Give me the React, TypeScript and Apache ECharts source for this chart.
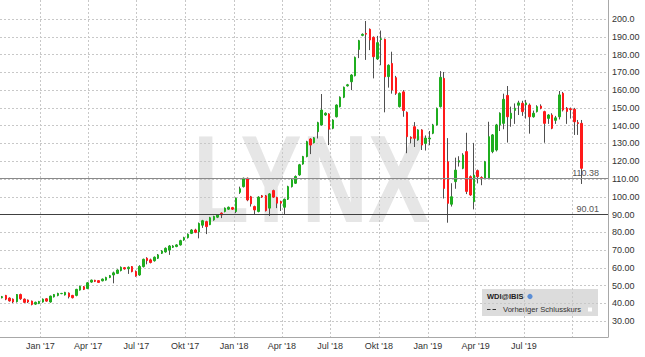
import React, { useEffect, useRef } from 'react';
import * as echarts from 'echarts';

// First weekly candle (Friday) and week length
const firstWeekDate = [2016, 9, 21];
const DAY = 86400000;

// Weekly candles: [open, close, low, high]
const weeklyOHLC: number[][] = [
  [43.2, 43.8, 42.8, 44.2], [44.5, 42.4, 41.8, 44.8], [43.0, 41.4, 41.0, 43.4], [42.4, 40.8, 40.2, 42.8],
  [41.0, 45.0, 40.5, 45.3], [45.0, 42.6, 42.0, 45.5], [42.4, 40.6, 40.2, 42.8], [41.9, 40.8, 40.2, 42.2],
  [41.3, 39.4, 38.9, 41.6], [39.6, 40.6, 39.2, 41.0], [40.0, 41.1, 39.6, 41.4], [40.8, 42.4, 40.4, 42.8],
  [42.6, 41.3, 40.9, 43.0], [40.8, 44.1, 40.4, 44.4], [43.7, 45.0, 43.3, 45.3], [44.5, 45.6, 44.0, 46.0],
  [45.5, 45.6, 45.2, 45.9], [44.8, 46.2, 44.4, 46.5], [45.8, 43.8, 42.8, 46.2], [44.5, 43.2, 42.8, 44.8],
  [44.5, 47.9, 44.0, 48.2], [47.5, 49.6, 47.2, 50.0], [49.4, 47.9, 47.5, 49.8], [48.4, 51.6, 48.0, 52.0],
  [52.0, 53.1, 51.6, 53.4], [53.0, 52.4, 52.0, 53.3], [52.8, 51.8, 51.5, 53.0], [52.7, 53.7, 52.4, 54.0],
  [53.1, 54.6, 52.8, 55.0], [54.6, 55.6, 54.2, 56.0], [56.0, 57.2, 51.3, 57.9], [56.9, 58.8, 56.5, 59.2],
  [58.5, 60.3, 58.0, 60.8], [60.1, 59.4, 59.0, 60.5], [59.5, 60.3, 56.6, 60.8], [60.7, 57.9, 57.5, 61.0],
  [58.0, 55.4, 55.0, 58.5], [56.0, 60.8, 55.5, 61.5], [60.7, 64.8, 60.2, 65.2], [65.4, 64.1, 62.0, 66.0],
  [64.5, 63.0, 62.5, 65.2], [64.0, 66.0, 63.5, 66.4], [65.4, 67.3, 65.0, 67.8], [68.2, 69.5, 67.8, 70.0],
  [69.0, 71.0, 68.5, 71.5], [70.0, 72.3, 67.3, 72.8], [71.6, 72.3, 71.2, 72.8], [72.0, 72.9, 71.6, 73.3],
  [72.9, 75.3, 72.5, 75.8], [75.7, 77.0, 75.2, 77.5], [77.0, 78.9, 76.5, 79.4], [79.4, 81.3, 79.0, 81.8],
  [81.3, 80.0, 79.5, 82.0], [80.2, 85.0, 76.6, 85.5], [84.0, 86.5, 82.5, 87.0], [86.0, 83.2, 79.0, 86.5],
  [84.3, 88.2, 84.0, 88.7], [87.0, 88.9, 86.5, 89.3], [88.5, 89.8, 88.0, 90.3], [90.8, 89.8, 88.0, 91.2],
  [91.7, 93.6, 91.2, 94.0], [93.0, 94.1, 92.6, 94.5], [93.9, 93.0, 92.6, 94.3], [91.7, 99.2, 90.8, 99.6],
  [102.5, 104.5, 101.6, 105.7], [105.7, 110.4, 105.2, 110.8], [110.4, 98.2, 97.5, 110.8], [100.0, 96.0, 94.5, 100.5],
  [94.5, 92.6, 90.0, 95.0], [91.7, 99.8, 91.2, 100.3], [100.5, 99.8, 99.3, 101.0], [100.5, 92.2, 91.7, 101.0],
  [93.6, 101.6, 89.2, 102.0], [103.5, 99.8, 99.3, 104.0], [99.6, 96.4, 93.6, 100.0], [97.3, 96.4, 92.0, 97.8],
  [94.1, 98.6, 90.0, 99.0], [98.6, 105.7, 98.2, 106.2], [105.7, 109.5, 105.2, 110.0], [107.6, 111.4, 107.2, 112.0],
  [112.3, 118.0, 111.8, 118.5], [118.4, 122.6, 118.0, 123.0], [122.6, 131.0, 122.2, 131.5], [132.5, 129.1, 124.0, 133.0],
  [130.4, 133.2, 130.0, 133.6], [136.6, 141.7, 132.8, 142.2], [140.4, 148.8, 140.0, 157.8], [146.0, 147.0, 145.5, 147.5],
  [146.6, 138.0, 129.1, 147.0], [138.5, 143.2, 138.0, 143.6], [145.0, 151.6, 144.6, 152.0], [150.7, 156.0, 150.3, 156.5],
  [156.0, 161.6, 155.5, 162.0], [162.4, 163.0, 162.0, 163.5], [164.7, 168.5, 160.0, 169.0], [168.1, 178.4, 167.7, 178.9],
  [182.9, 187.8, 178.0, 188.3], [190.8, 191.4, 190.3, 191.9], [191.9, 191.5, 177.0, 198.9], [194.2, 188.2, 182.5, 194.7],
  [189.7, 178.8, 166.6, 190.2], [177.5, 186.7, 177.0, 190.5], [188.5, 188.9, 174.0, 193.5], [188.6, 167.5, 147.5, 189.0],
  [167.6, 174.0, 161.4, 174.5], [175.0, 160.0, 158.0, 181.6], [167.0, 158.2, 157.3, 168.0], [150.7, 158.2, 150.2, 158.7],
  [159.0, 148.5, 145.0, 160.0], [147.5, 133.8, 124.5, 148.0], [133.5, 132.9, 130.0, 134.0], [139.4, 132.9, 128.0, 142.0],
  [132.0, 137.6, 131.5, 138.0], [137.6, 129.1, 126.3, 138.0], [130.0, 133.0, 126.0, 134.5], [132.5, 133.0, 129.0, 137.0],
  [135.7, 140.4, 135.2, 141.0], [140.4, 149.7, 140.0, 150.2], [150.7, 167.2, 150.2, 170.7], [166.6, 104.7, 99.0, 170.2],
  [119.7, 96.3, 85.4, 133.0], [95.8, 100.0, 94.5, 107.6], [108.5, 115.0, 104.5, 122.0], [119.5, 120.3, 117.0, 122.8],
  [116.0, 123.5, 115.5, 124.5], [125.4, 103.0, 101.5, 136.0], [111.3, 101.0, 100.5, 112.0], [97.2, 112.2, 92.9, 130.3],
  [114.7, 111.3, 107.5, 115.3], [110.8, 110.2, 106.5, 111.5], [110.4, 119.7, 110.0, 120.2], [110.4, 133.8, 110.0, 142.2],
  [125.4, 134.8, 124.5, 135.3], [126.3, 140.4, 125.5, 141.0], [140.4, 147.0, 137.0, 147.5], [141.3, 154.8, 138.0, 158.0],
  [157.0, 145.0, 130.5, 162.3], [144.1, 147.0, 139.4, 150.7], [148.6, 149.8, 141.0, 152.5], [151.5, 152.8, 146.0, 154.0],
  [152.6, 147.9, 145.5, 154.0], [151.8, 152.8, 144.0, 154.5], [151.6, 145.0, 135.5, 152.5], [145.0, 147.0, 144.5, 148.5],
  [147.9, 150.7, 147.4, 151.5], [151.0, 149.8, 149.2, 152.0], [147.9, 141.3, 130.4, 148.4], [144.1, 146.0, 141.0, 146.5],
  [146.0, 138.5, 138.0, 147.0], [143.0, 144.4, 141.0, 145.5], [145.0, 157.3, 143.5, 159.5], [158.2, 148.8, 148.0, 159.0],
  [149.8, 148.0, 141.0, 150.5], [149.5, 149.0, 144.0, 150.2], [149.2, 142.2, 134.8, 150.0], [141.7, 141.2, 134.8, 143.2],
  [141.3, 116.0, 107.2, 143.2],
];

// Quarter starts used for grid lines / labels
const quarterStarts: number[][] = [
  [2017, 0], [2017, 3], [2017, 6], [2017, 9],
  [2018, 0], [2018, 3], [2018, 6], [2018, 9],
  [2019, 0], [2019, 3], [2019, 6], [2019, 9],
];
const labelledQuarters = 11;
const monthNames: Record<number, string> = { 0: 'Jan', 3: 'Apr', 6: 'Jul', 9: 'Okt' };

const yTicks = [30, 40, 50, 60, 70, 80, 90, 100, 110, 120, 130, 140, 150, 160, 170, 180, 190, 200];

const levelLines = [110.38, 90.01];
const legendTitle = 'WDI@IBIS';
const legendItem = 'Vorheriger Schlusskurs';
const watermark = 'LYNX';

const FONT = '"Liberation Sans", Arial, sans-serif';

export default function App() {
  const ref = useRef<HTMLDivElement>(null);

  useEffect(() => {
    if (!ref.current) return;
    const chart = echarts.init(ref.current, undefined, { renderer: 'svg' });

    const t0 = new Date(firstWeekDate[0], firstWeekDate[1], firstWeekDate[2]).getTime();
    const times = weeklyOHLC.map((_, i) => t0 + i * 7 * DAY);
    const wickData = weeklyOHLC.map((d, i) => [times[i], d[0], d[1], d[2], d[3]]);
    const bodyData = weeklyOHLC.map((d, i) => [
      times[i], d[0], d[1], Math.min(d[0], d[1]), Math.max(d[0], d[1]),
    ]);
    const qTicks = quarterStarts.map(([y, m]) => new Date(y, m, 1).getTime());
    const qLabels = qTicks.slice(0, labelledQuarters);

    const xMin = new Date(2016, 9, 17, 2).getTime();
    const xMax = new Date(2019, 11, 6, 12).getTime();

    const option: any = {
      animation: false,
      grid: { left: 0, right: 37, top: 0, bottom: 20 },
      xAxis: {
        type: 'value',
        min: xMin,
        max: xMax,
        axisLine: { show: true, lineStyle: { color: '#a8a8a8' } },
        axisTick: { show: false, customValues: qTicks },
        axisLabel: {
          customValues: qLabels,
          color: '#333',
          fontSize: 9,
          fontFamily: FONT,
          margin: 4,
          formatter: (v: number) => {
            const d = new Date(v);
            return `${monthNames[d.getMonth()]} '${String(d.getFullYear()).slice(2)}`;
          },
        },
        splitLine: { show: true, lineStyle: { color: '#c8c8c8', type: [2, 2], width: 1 } },
      },
      yAxis: {
        type: 'value',
        position: 'right',
        min: 21.1,
        max: 210.7,
        axisLine: { show: true, lineStyle: { color: '#a8a8a8' } },
        axisTick: { show: false, customValues: yTicks },
        axisLabel: {
          customValues: yTicks,
          color: '#333',
          fontSize: 9,
          fontFamily: FONT,
          margin: 4,
          formatter: (v: number) => (v === 200 ? '200.0' : v.toFixed(2)),
        },
        splitLine: { show: true, lineStyle: { color: '#c8c8c8', type: [2, 2], width: 1 } },
      },
      graphic: [
        {
          type: 'text',
          z: -1,
          x: 193,
          y: 179,
          scaleX: 0.74,
          silent: true,
          style: {
            text: watermark,
            fill: '#e6e6e6',
            fontSize: 124,
            fontWeight: 'bold',
            fontFamily: FONT,
            align: 'left',
            verticalAlign: 'middle',
          },
        },
        {
          type: 'group',
          z: 100,
          children: [
            { type: 'rect', shape: { x: 482, y: 289, width: 116, height: 27 }, style: { fill: '#dcdcdc' } },
            {
              type: 'text', x: 487, y: 296.5,
              style: { text: legendTitle, fill: '#222', fontSize: 7.5, fontWeight: 'bold', fontFamily: FONT, verticalAlign: 'middle' },
            },
            { type: 'circle', shape: { cx: 530, cy: 296.5, r: 2.6 }, style: { fill: '#5b8ed6' } },
            {
              type: 'line', shape: { x1: 487, y1: 309.5, x2: 497, y2: 309.5 },
              style: { stroke: '#333', lineWidth: 1, lineDash: [3.5, 2] },
            },
            {
              type: 'text', x: 503, y: 309.5,
              style: { text: legendItem, fill: '#333', fontSize: 7.6, fontFamily: FONT, verticalAlign: 'middle' },
            },
            { type: 'rect', shape: { x: 588, y: 307.5, width: 4, height: 4 }, style: { fill: '#ffffff' } },
          ],
        },
      ],
      series: [
        {
          type: 'candlestick',
          name: 'wick',
          data: wickData,
          barWidth: 0.5,
          silent: true,
          itemStyle: { color: '#505050', color0: '#505050', borderColor: '#505050', borderColor0: '#505050', borderWidth: 1 },
        },
        {
          type: 'candlestick',
          name: legendTitle,
          data: bodyData,
          barWidth: 2,
          silent: true,
          itemStyle: { color: '#1fae1f', color0: '#ff1a1a', borderColor: '#1fae1f', borderColor0: '#ff1a1a', borderWidth: 1 },
          markLine: {
            silent: true,
            symbol: ['none', 'none'],
            label: {
              show: true,
              position: 'insideEndTop',
              distance: [9, 1],
              color: '#555',
              fontSize: 9,
              fontFamily: FONT,
              formatter: (p: any) => Number(p.value).toFixed(2),
            },
            data: [
              { yAxis: levelLines[0], lineStyle: { color: '#8a8a8a', width: 1, type: 'solid' } },
              { yAxis: levelLines[1], lineStyle: { color: '#404040', width: 1, type: 'solid' } },
            ],
          },
        },
      ],
    };

    chart.setOption(option);
    return () => chart.dispose();
  }, []);

  return (
    <div
      ref={ref}
      style={{ position: 'absolute', left: 0, top: 0, width: 645, height: 357, background: '#fff' }}
    />
  );
}
